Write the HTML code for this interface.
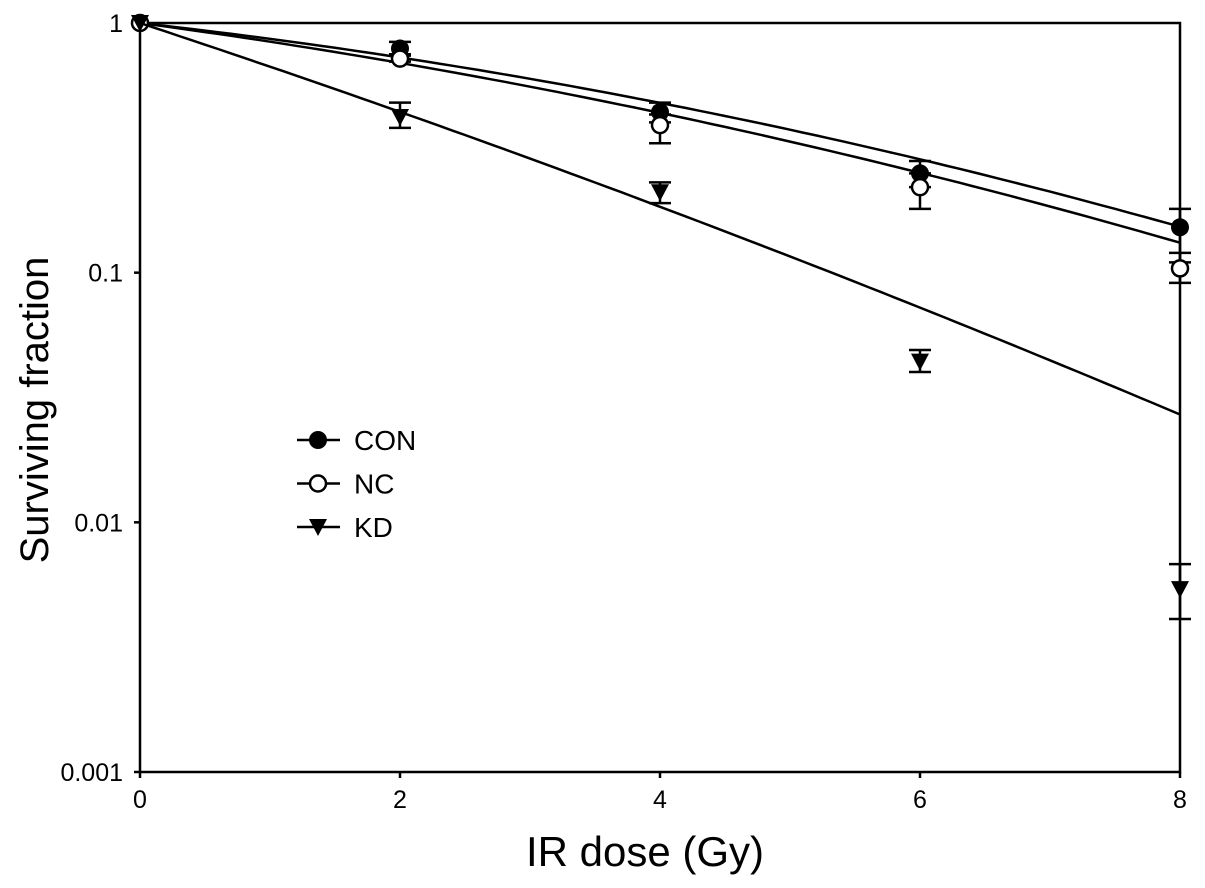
<!DOCTYPE html>
<html><head><meta charset="utf-8"><style>
body{margin:0;background:#fff;width:1205px;height:883px;overflow:hidden}
svg{font-family:"Liberation Sans",Arial,sans-serif}
</style></head><body>
<svg id="chart" width="1205" height="883" viewBox="0 0 1205 883"></svg>
<script>
const doses=[0,2,4,6,8];
const conVals=[1,0.79,0.44,0.25,0.152];
const conLo=[1,0.75,0.40,0.22,0.11];
const conHi=[1,0.84,0.48,0.28,0.18];
const ncVals=[1,0.72,0.39,0.22,0.104];
const ncLo=[1,0.70,0.33,0.18,0.091];
const ncHi=[1,0.74,0.43,0.25,0.12];
const kdVals=[1,0.42,0.21,0.044,0.0054];
const kdLo=[1,0.38,0.19,0.040,0.0041];
const kdHi=[1,0.48,0.23,0.049,0.0068];
const fitA=[0.058,0.070,0.172];
const fitB=[0.0055,0.0050,0.0030];
const xTicks=[0,2,4,6,8];
const yTicks=[1,0.1,0.01,0.001];
const yTickLabels=["1","0.1","0.01","0.001"];
const seriesNames=["CON","NC","KD"];

const NS="http://www.w3.org/2000/svg";
const svg=document.getElementById('chart');
const X0=140,X1=1180,YT=23,YB=772;
const xs=v=>X0+(v-0)/8*(X1-X0);
const ys=v=>YT+(0-Math.log10(v))/3*(YB-YT);
function el(tag,attrs,parent){const e=document.createElementNS(NS,tag);for(const k in attrs)e.setAttribute(k,attrs[k]);(parent||svg).appendChild(e);return e;}

let a=el('path',{d:`M${X0} ${YT}V${YB}H${X1}V${YT}H${X0}`,fill:'none',stroke:'#000','stroke-width':2.5});


xTicks.forEach(t=>{
  const l=el('line',{x1:xs(t),x2:xs(t),y1:YB,y2:YB+6,stroke:'#000','stroke-width':2.5});
  
  
  const tx=el('text',{x:xs(t),y:808,'text-anchor':'middle','font-size':25});
  tx.textContent=t;
  
  
});
yTicks.forEach((t,i)=>{
  const l=el('line',{x1:X0-6,x2:X0,y1:ys(t),y2:ys(t),stroke:'#000','stroke-width':2.5});
  
  
  const tx=el('text',{x:X0-17,y:ys(t)+9,'text-anchor':'end','font-size':25});
  tx.textContent=yTickLabels[i];
  
  
});
let xt=el('text',{x:645,y:866,'text-anchor':'middle','font-size':42});
xt.textContent='IR dose (Gy)';


let yt=el('text',{x:0,y:0,'text-anchor':'middle','font-size':40,transform:'translate(48,410) rotate(-90)'});
yt.textContent='Surviving fraction';



function marker(type,x,y,g){
  if(type===0) return el('circle',{cx:x,cy:y,r:9,fill:'#000'},g);
  if(type===1) return el('circle',{cx:x,cy:y,r:8,fill:'#fff',stroke:'#000','stroke-width':2.5},g);
  return el('path',{d:`M${x-9} ${y-8}H${x+9}L${x} ${y+9}Z`,fill:'#000'},g);
}
const vals=[conVals,ncVals,kdVals],los=[conLo,ncLo,kdLo],his=[conHi,ncHi,kdHi];
vals.forEach((sv,s)=>{
  const g=el('g',{});
  
  
  let d='';
  for(let i=0;i<=80;i++){const x=i/10;const v=Math.pow(10,-(fitA[s]*x+fitB[s]*x*x));d+=(i?'L':'M')+xs(x).toFixed(1)+' '+ys(v).toFixed(1);}
  const p=el('path',{d,fill:'none',stroke:'#000','stroke-width':2.5},g);
  
  
  doses.forEach((dv,i)=>{
    const x=xs(dv);
    if(i>0){
      const e=el('path',{d:`M${x} ${ys(his[s][i])}V${ys(los[s][i])}M${x-11} ${ys(his[s][i])}H${x+11}M${x-11} ${ys(los[s][i])}H${x+11}`,stroke:'#000','stroke-width':2.5,fill:'none'},g);
      
      
    }
    const m=marker(s,x,ys(sv[i]),g);
    
    
  });
});
seriesNames.forEach((n,s)=>{
  const y=440+s*43.5;
  const g=el('g',{});
  
  
  el('line',{x1:297,x2:340,y1:y,y2:y,stroke:'#000','stroke-width':2.5},g);
  marker(s,318,y,g);
  const t=el('text',{x:354,y:y+10,'font-size':28},g);
  t.textContent=n;
});
</script>
</body></html>
